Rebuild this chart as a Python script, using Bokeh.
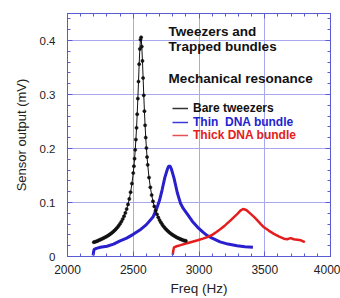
from bokeh.plotting import figure
from bokeh.models import Range1d, LinearAxis, SingleIntervalTicker, Label, Legend, LegendItem
from bokeh.embed import file_html
from bokeh.resources import INLINE

# ---------------- data ----------------
black_freq = [2200, 2210, 2220, 2230, 2240, 2250, 2260, 2270, 2280, 2290,
              2300, 2310, 2320, 2330, 2340, 2350, 2360, 2370, 2380, 2390,
              2400, 2410, 2420, 2430, 2440, 2450, 2460, 2470, 2480, 2490,
              2500, 2505, 2510, 2515, 2520, 2525, 2530, 2535, 2540, 2545,
              2550, 2555, 2560, 2565, 2570, 2575, 2580, 2585, 2590, 2595,
              2600, 2605, 2610, 2620, 2630, 2640, 2650, 2660, 2670, 2680,
              2690, 2700, 2710, 2720, 2730, 2740, 2750, 2760, 2770, 2780,
              2790, 2800, 2810, 2820, 2830, 2840, 2850, 2860, 2870, 2880,
              2890, 2900]
black_amp = [0.0265, 0.0272, 0.0280, 0.0290, 0.0302, 0.0313, 0.0324, 0.0336, 0.0348, 0.0361,
             0.0375, 0.0390, 0.0406, 0.0424, 0.0443, 0.0464, 0.0487, 0.0513, 0.0541, 0.0573,
             0.0608, 0.0648, 0.0694, 0.0746, 0.0807, 0.0879, 0.0964, 0.1066, 0.1191, 0.1350,
             0.1546, 0.1672, 0.1811, 0.1976, 0.2165, 0.2382, 0.2635, 0.2924, 0.3240, 0.3562,
             0.3843, 0.4018, 0.4060, 0.3887, 0.3622, 0.3306, 0.2985, 0.2691, 0.2430, 0.2203,
             0.2009, 0.1842, 0.1697, 0.1462, 0.1281, 0.1138, 0.1022, 0.0928, 0.0849, 0.0782,
             0.0725, 0.0675, 0.0632, 0.0594, 0.0560, 0.0529, 0.0502, 0.0478, 0.0456, 0.0435,
             0.0417, 0.0400, 0.0384, 0.0369, 0.0356, 0.0343, 0.0332, 0.0321, 0.0311, 0.0301,
             0.0295, 0.0290]

blue_freq = [2195, 2198, 2202, 2220, 2250, 2300, 2350, 2400, 2450, 2500,
             2550, 2600, 2650, 2680, 2700, 2720, 2740, 2760, 2767, 2775,
             2783, 2790, 2810, 2835, 2860, 2880, 2910, 2950, 2990, 3030,
             3060, 3100, 3160, 3220, 3290, 3350, 3410]
blue_amp = [0.002, 0.008, 0.013, 0.015, 0.017, 0.019, 0.023, 0.029, 0.034, 0.041,
            0.049, 0.059, 0.073, 0.090, 0.104, 0.124, 0.146, 0.162, 0.166, 0.168,
            0.166, 0.162, 0.145, 0.118, 0.098, 0.089, 0.079, 0.065, 0.054, 0.045,
            0.039, 0.034, 0.027, 0.023, 0.020, 0.018, 0.017]

red_freq = [2800, 2804, 2810, 2830, 2860, 2885, 2930, 2990, 3030, 3063,
            3100, 3130, 3164, 3200, 3240, 3270, 3292, 3315, 3335, 3360,
            3393, 3420, 3444, 3470, 3494, 3530, 3570, 3610, 3646, 3670,
            3697, 3720, 3748, 3775, 3805]
red_amp = [0.003, 0.010, 0.017, 0.019, 0.021, 0.023, 0.026, 0.030, 0.033, 0.036,
           0.040, 0.045, 0.051, 0.058, 0.067, 0.074, 0.079, 0.085, 0.088, 0.086,
           0.079, 0.073, 0.067, 0.060, 0.054, 0.048, 0.042, 0.037, 0.033, 0.032,
           0.034, 0.032, 0.031, 0.030, 0.0265]

series_labels = ["Bare tweezers", "Thin  DNA bundle", "Thick DNA bundle"]
x_label = "Freq (Hz)"
y_label = "Sensor output (mV)"
title_lines = ["Tweezers and", "Trapped bundles", "Mechanical resonance"]

# ---------------- styling ----------------
FONT = "Liberation Sans"
AX = "#5a5ad2"
GRID = "#a8a8ee"
BLACK = "#111111"
BLUE = "#2a1fcc"
RED = "#e41e1e"

p = figure(width=340, height=298, output_backend="svg", toolbar_location=None,
           x_range=Range1d(2000, 4000), y_range=Range1d(0, 0.45),
           min_border_left=67, min_border_right=10, min_border_top=13,
           min_border_bottom=42)
p.background_fill_color = "white"
p.border_fill_color = "white"
p.outline_line_color = AX
p.outline_line_width = 1

bottom_axis = p.below[0]
left_axis = p.left[0]

xt = SingleIntervalTicker(interval=500, num_minor_ticks=5)
yt = SingleIntervalTicker(interval=0.1, num_minor_ticks=5)
bottom_axis.ticker = xt
left_axis.ticker = yt
p.xgrid.ticker = xt
p.ygrid.ticker = yt
p.grid.grid_line_color = GRID
p.grid.grid_line_width = 1

top_axis = LinearAxis(ticker=xt)
right_axis = LinearAxis(ticker=yt)
p.add_layout(top_axis, "above")
p.add_layout(right_axis, "right")

for ax in [bottom_axis, left_axis, top_axis, right_axis]:
    ax.axis_line_color = AX
    ax.major_tick_line_color = AX
    ax.minor_tick_line_color = AX
    ax.major_tick_in = 5
    ax.major_tick_out = 0
    ax.minor_tick_in = 3
    ax.minor_tick_out = 0
    ax.major_label_text_font = FONT
    ax.major_label_text_color = "#222222"
    ax.axis_label_text_font = FONT
    ax.axis_label_text_font_style = "normal"
    ax.axis_label_text_color = "#222222"

for ax in [top_axis, right_axis]:
    ax.major_label_text_font_size = "1px"
    ax.major_label_text_color = None
    ax.major_label_standoff = 0

bottom_axis.major_label_text_font_size = "12px"
bottom_axis.major_label_standoff = 8
bottom_axis.axis_label = x_label
bottom_axis.axis_label_text_font_size = "13.5px"
bottom_axis.axis_label_standoff = 4

left_axis.major_label_text_font_size = "11.5px"
left_axis.major_label_standoff = 12
left_axis.major_label_overrides = {0: "0"}
left_axis.axis_label = y_label
left_axis.axis_label_text_font_size = "13px"
left_axis.axis_label_standoff = 8

# ---------------- data renderers ----------------
p.line(blue_freq, blue_amp, line_color=BLUE, line_width=3)
p.line(red_freq, red_amp, line_color=RED, line_width=2.5)
p.line(black_freq, black_amp, line_color=BLACK, line_width=1)
p.scatter(black_freq, black_amp, size=3.2, fill_color=BLACK, line_color=BLACK,
          line_width=0.5)

# ---------------- annotations ----------------
for txt, yy in zip(title_lines, [0.417, 0.389, 0.330]):
    p.add_layout(Label(x=2769, y=yy, text=txt, text_font=FONT, text_font_size="13.5px",
                       text_font_style="bold", text_color=BLACK,
                       text_baseline="alphabetic"))

nan = float("nan")
leg_colors = ["#333333", "#3a3ad8", "#e85050"]
txt_colors = [BLACK, "#2323d0", "#e32020"]
leg_y = [141, 127, 114]
for lab, lc, tc, ly in zip(series_labels, leg_colors, txt_colors, leg_y):
    r = p.line(x=[nan], y=[nan], line_color=lc, line_width=1.5)
    leg = Legend(items=[LegendItem(label=lab, renderers=[r])], location=(105, ly),
                 padding=0, margin=0, spacing=0, glyph_width=16, glyph_height=14,
                 label_height=14, label_standoff=5, border_line_alpha=0,
                 background_fill_alpha=0, label_text_font=FONT,
                 label_text_font_size="12px", label_text_font_style="bold",
                 label_text_color=tc, label_text_baseline="alphabetic")
    p.add_layout(leg)

open("out.html", "w").write(file_html(p, INLINE))
